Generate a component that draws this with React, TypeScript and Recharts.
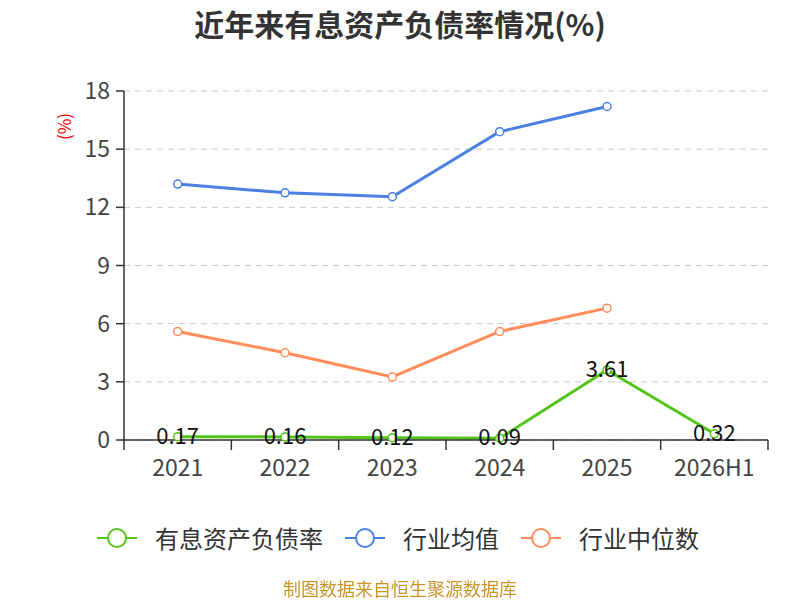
import { LineChart, Line, XAxis, YAxis, CartesianGrid, LabelList } from "recharts";

// chart values
const years = ["2021", "2022", "2023", "2024", "2025", "2026H1"];
const debtRatio = [0.17, 0.16, 0.12, 0.09, 3.61, 0.32];
const industryMean = [13.2, 12.75, 12.55, 15.9, 17.2, null];
const industryMedian = [5.6, 4.5, 3.25, 5.6, 6.8, null];
const yTicks = [0, 3, 6, 9, 12, 15, 18];

const seriesList = [
  { key: "debt", name: "有息资产负债率", color: "#52c41a" },
  { key: "mean", name: "行业均值", color: "#4a80e0" },
  { key: "median", name: "行业中位数", color: "#ff8c5a" },
];

const chartData = years.map((year, i) => ({
  year,
  debt: debtRatio[i],
  mean: industryMean[i],
  median: industryMedian[i],
}));

const FONT = '"Noto Sans CJK SC", "Noto Sans", sans-serif';
const PLOT_W = 644;

// category label plus tick marks on the band edges (like a boundary-gap axis)
const XTick = (props: any) => {
  const { x, y, payload, index } = props;
  const half = PLOT_W / years.length / 2;
  return (
    <g>
      <line x1={x - half} y1={y - 8} x2={x - half} y2={y + 2} stroke="#333" strokeWidth={1.5} />
      {index === years.length - 1 && (
        <line x1={x + half} y1={y - 8} x2={x + half} y2={y + 2} stroke="#333" strokeWidth={1.5} />
      )}
      <text x={x} y={y + 28} textAnchor="middle" fontSize={23} fill="#444" fontFamily={FONT}>
        {payload.value}
      </text>
    </g>
  );
};

const PointLabel = (props: any) => {
  const { x, y, value } = props;
  return (
    <text x={x} y={y + 7} textAnchor="middle" fontSize={22} fill="#111" fontFamily={FONT}>
      {value}
    </text>
  );
};

const LegendIcon = ({ color }: { color: string }) => (
  <svg width={40} height={24} style={{ marginRight: 18 }}>
    <line x1={0} y1={12} x2={40} y2={12} stroke={color} strokeWidth={2} />
    <circle cx={20} cy={12} r={9} fill="#fff" stroke={color} strokeWidth={2} />
  </svg>
);

export default function App() {
  return (
    <div style={{ position: "fixed", left: 0, top: 0, width: 800, height: 600, background: "#fff", fontFamily: FONT }}>
      <div style={{ position: "absolute", top: 1, width: 800, textAlign: "center", fontSize: 30, fontWeight: "bold", color: "#333" }}>
        近年来有息资产负债率情况(%)
      </div>
      <div
        style={{
          position: "absolute",
          left: 50,
          top: 114,
          fontSize: 17,
          color: "#e00",
          transform: "rotate(-90deg)",
          transformOrigin: "center",
        }}
      >
        (%)
      </div>
      <LineChart width={800} height={600} data={chartData} margin={{ top: 91, right: 32, left: 64, bottom: 130 }}>
        <CartesianGrid vertical={false} strokeDasharray="6 5" stroke="#c8c8c8" />
        <XAxis
          dataKey="year"
          scale="band"
          height={30}
          axisLine={{ stroke: "#333", strokeWidth: 1.5 }}
          tickLine={false}
          tick={<XTick />}
          interval={0}
        />
        <YAxis
          width={60}
          domain={[0, 18]}
          ticks={yTicks}
          axisLine={{ stroke: "#333", strokeWidth: 1.5 }}
          tickLine={{ stroke: "#333", strokeWidth: 1.5 }}
          tickSize={8}
          tickMargin={6}
          tick={{ fontSize: 23, fill: "#444", fontFamily: FONT }}
        />
        {seriesList.map((s) => (
          <Line
            key={s.key}
            dataKey={s.key}
            name={s.name}
            type="linear"
            stroke={s.color}
            strokeWidth={3}
            dot={{ r: 4, fill: "#fff", stroke: s.color, strokeWidth: 1.5 }}
            isAnimationActive={false}
          >
            {s.key === "debt" && <LabelList dataKey="debt" content={<PointLabel />} />}
          </Line>
        ))}
      </LineChart>
      <div style={{ position: "absolute", top: 520, left: 97, display: "flex", alignItems: "center", fontSize: 24, color: "#333" }}>
        {seriesList.map((s) => (
          <div key={s.key} style={{ display: "flex", alignItems: "center", marginRight: 22 }}>
            <LegendIcon color={s.color} />
            <span>{s.name}</span>
          </div>
        ))}
      </div>
      <div style={{ position: "absolute", top: 575, width: 800, textAlign: "center", fontSize: 18, color: "#c8962a" }}>
        制图数据来自恒生聚源数据库
      </div>
    </div>
  );
}
